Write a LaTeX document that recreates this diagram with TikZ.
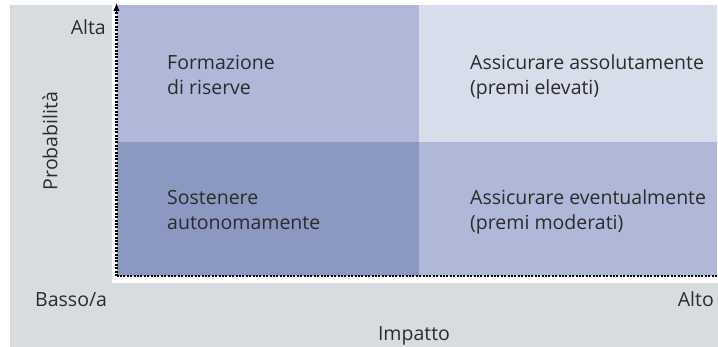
\documentclass[tikz,border=0pt]{standalone}
\usepackage{fontspec}
\setmainfont{Open Sans}
\usepackage{tikz}
\usetikzlibrary{arrows,arrows.meta}
\definecolor{bgGray}{HTML}{D9DCDF}
\definecolor{qLight}{HTML}{D8DDEB}
\definecolor{qMid}{HTML}{AFB8D8}
\definecolor{qDark}{HTML}{8A98C2}
\definecolor{txtGray}{HTML}{2B2B2B}

\begin{document}
\begin{tikzpicture}[x=1pt,y=-1pt]
	\tikzset{lbl/.style = {inner sep=0pt,text=txtGray,font=\fontsize{19.5}{25}\selectfont}}
	\tikzstyle{axis} = [line width=2.3pt,dash pattern=on 2pt off 1.4pt,black]
	\tikzstyle{axisTip} = [line width=1pt,black,-{Latex[length=8pt,width=6.5pt]}]
	\useasboundingbox (0,0) rectangle (718,347);
	%background
	\fill[bgGray] (10,5) rectangle (718,347);
	\fill[white] (112,0) rectangle (718,283);
	%quadrants
	\fill[qMid] (116.5,5) rectangle (419,142);
	\fill[qLight] (419,5) rectangle (717,142);
	\fill[qDark] (116.5,142) rectangle (419,276);
	\fill[qMid] (419,142) rectangle (717,276);
	\coordinate (O) at (116.5,276);
	\coordinate (yTip) at (116.5,12);
	\coordinate (yEnd) at (116.5,3);
	\coordinate (xEnd) at (717,276);
	%axes
	\draw[axis] (O) -- (yTip);
	\draw[axisTip] (yTip) -- (yEnd);
	\draw[axis] (O) -- (xEnd);
	%quadrant texts
	\node[lbl,anchor=base west,align=left] (riserve) at (167,94.5) {Formazione\\di riserve};
	\node[lbl,anchor=base west,align=left] (elevati) at (470,94.5) {Assicurare assolutamente\\(premi elevati)};
	\node[lbl,anchor=base west,align=left] (autonomo) at (167,230) {Sostenere\\autonomamente};
	\node[lbl,anchor=base west,align=left] (moderati) at (470,230) {Assicurare eventualmente\\(premi moderati)};
	%axis labels
	\node[lbl,anchor=base east] (alta) at (106,35) {Alta};
	\node[lbl,rotate=90] (prob) at (50,141) {Probabilità};
	\node[lbl,anchor=base west] (basso) at (35,306.5) {Basso/a};
	\node[lbl,anchor=base east] (alto) at (714,306.5) {Alto};
	\node[lbl,anchor=base] (impatto) at (414,341) {Impatto};
\end{tikzpicture}
\end{document}
